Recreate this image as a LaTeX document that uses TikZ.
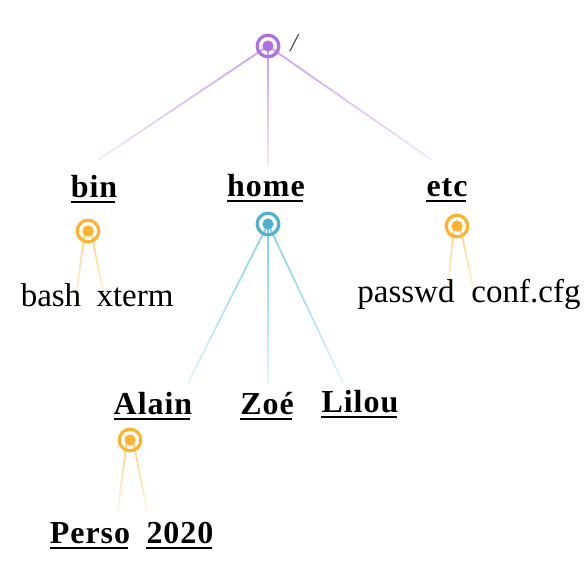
\documentclass[tikz,border=0pt]{standalone}
\usepackage{fontspec}
\setmainfont{Liberation Serif}
\usetikzlibrary{calc}
\definecolor{purp}{HTML}{B06EE0}
\definecolor{purpl}{HTML}{CC9AF0}
\definecolor{blu}{HTML}{4FB0D0}
\definecolor{blul}{HTML}{7ACFEE}
\definecolor{ora}{HTML}{FFB22E}
\definecolor{oral}{HTML}{FFCF7A}
\newcommand{\fadeline}[3]{%
  \foreach \i in {0,...,19}{%
    \pgfmathsetmacro{\op}{1-0.75*\i/19}%
    \draw[#3,line width=1.7pt,opacity=\op] ($#1!{\i/20}!#2$) -- ($#1!{(\i+1)/20}!#2$);
  }}
\tikzset{
  dir/.style={font=\fontsize{32}{32}\selectfont\addfontfeatures{LetterSpace=3}\bfseries, inner sep=0pt, anchor=base},
  leaf/.style={font=\fontsize{33}{33}\selectfont, inner sep=0pt, anchor=base},
}
\newcommand{\ul}[1]{\draw[line width=2.8pt] ([yshift=-5pt]#1.base west) -- ([yshift=-5pt,xshift=-2pt]#1.base east);}
\newcommand{\hub}[2]{%
  \fill[#2] (#1) circle (5.6);
  \draw[#2, line width=3.2pt] (#1) circle (10.8);}
\begin{document}
\begin{tikzpicture}[x=1pt,y=-1pt]
\useasboundingbox (0,0) rectangle (587,579);
% hubs positions
\coordinate (r) at (268,46);
\coordinate (hb) at (88,231);
\coordinate (hh) at (268,224);
\coordinate (he) at (457,226);
\coordinate (ha) at (130,440);
% end points
\coordinate (e1) at (98,160);
\coordinate (e2) at (268,166);
\coordinate (e3) at (432,160);
\coordinate (b1) at (75,302);
\coordinate (b2) at (105,302);
\coordinate (t1) at (447,297);
\coordinate (t2) at (475,297);
\coordinate (a1) at (188,383);
\coordinate (a2) at (268,383);
\coordinate (a3) at (343,383);
\coordinate (p1) at (118,510);
\coordinate (p2) at (147,510);
% connectors
\fadeline{(r)}{(e1)}{purpl}
\fadeline{(r)}{(e2)}{purpl}
\fadeline{(r)}{(e3)}{purpl}
\fadeline{([xshift=-3pt]hb)}{(b1)}{oral}
\fadeline{([xshift=3pt]hb)}{(b2)}{oral}
\fadeline{([xshift=-3pt]he)}{(t1)}{oral}
\fadeline{([xshift=3pt]he)}{(t2)}{oral}
\fadeline{(hh)}{(a1)}{blul}
\fadeline{(hh)}{(a2)}{blul}
\fadeline{(hh)}{(a3)}{blul}
\fadeline{([xshift=-3pt]ha)}{(p1)}{oral}
\fadeline{([xshift=3pt]ha)}{(p2)}{oral}
% hubs
\hub{r}{purp}
\hub{hb}{ora}
\hub{hh}{blu}
\hub{he}{ora}
\hub{ha}{ora}
% labels
\node[font=\fontsize{26}{26}\selectfont\itshape, text=gray!50!black, inner sep=0pt, anchor=base] (slash) at (294,51) {/};
\node[dir] (bin) at (94,197) {bin}; \ul{bin}
\node[dir] (home) at (266,196) {home}; \ul{home}
\node[dir] (etc) at (447,196) {etc}; \ul{etc}
\node[dir] (alain) at (153,414) {Alain}; \ul{alain}
\node[dir] (zoe) at (267,414) {Zoé}; \ul{zoe}
\node[dir] (lilou) at (360,412) {Lilou}; \ul{lilou}
\node[dir] (perso) at (90,543) {Perso}; \ul{perso}
\node[dir] (y2020) at (180,543) {2020}; \ul{y2020}
\node[leaf] (bash) at (51,306) {bash};
\node[leaf] (xterm) at (135,306) {xterm};
\node[leaf] (passwd) at (406,302) {passwd};
\node[leaf] (conf) at (526,302) {conf.cfg};
\end{tikzpicture}
\end{document}
